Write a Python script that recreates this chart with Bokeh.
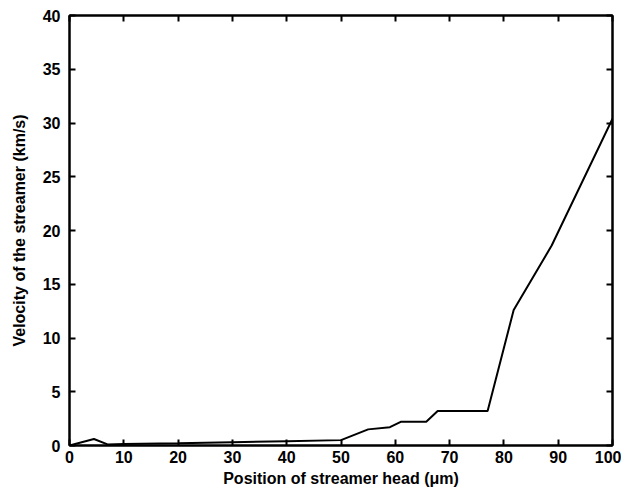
from bokeh.plotting import figure
from bokeh.models import LinearAxis, Range1d, FixedTicker
from bokeh.embed import file_html
from bokeh.resources import INLINE

position = [0, 4.5, 7, 10, 20, 30, 40, 50, 55, 59, 61, 65.7, 67.8, 77, 81.8, 88.8, 100]
velocity = [0, 0.6, 0.1, 0.15, 0.2, 0.3, 0.4, 0.5, 1.5, 1.7, 2.2, 2.2, 3.2, 3.2, 12.6, 18.6, 30.4]
x_ticks = [0, 10, 20, 30, 40, 50, 60, 70, 80, 90, 100]
y_ticks = [0, 5, 10, 15, 20, 25, 30, 35, 40]

FONT = "Liberation Sans"

p = figure(width=621, height=493, output_backend="svg", toolbar_location=None,
           x_range=Range1d(0, 100), y_range=Range1d(0, 40),
           min_border_left=69, min_border_right=9, min_border_top=15, min_border_bottom=48)
p.grid.visible = False
p.outline_line_color = "black"
p.outline_line_width = 2
p.background_fill_color = "white"
p.border_fill_color = "white"

p.line(position, velocity, line_color="black", line_width=2)

def style(ax, ticks, show_labels):
    ax.ticker = FixedTicker(ticks=ticks)
    ax.axis_line_color = "black"
    ax.axis_line_width = 2
    ax.major_tick_in = 6
    ax.major_tick_out = 0
    ax.major_tick_line_width = 2
    ax.minor_tick_line_color = None
    ax.major_label_text_font = FONT
    ax.major_label_text_font_style = "bold"
    ax.major_label_text_font_size = "16px"
    ax.major_label_text_color = "black"
    ax.axis_label_text_font = FONT
    ax.axis_label_text_font_style = "bold"
    ax.axis_label_text_font_size = "16px"
    ax.axis_label_text_color = "black"
    if not show_labels:
        ax.major_label_text_color = None
        ax.major_label_standoff = 0

style(p.xaxis[0], x_ticks, True)
style(p.yaxis[0], y_ticks, True)
p.xaxis[0].axis_label = "Position of streamer head (\u03bcm)"
p.yaxis[0].axis_label = "Velocity of the streamer (km/s)"
p.xaxis[0].major_label_standoff = 5
p.yaxis[0].major_label_standoff = 9
p.xaxis[0].axis_label_standoff = 4
p.yaxis[0].axis_label_standoff = 12

top = LinearAxis()
style(top, x_ticks, False)
p.add_layout(top, "above")
right = LinearAxis()
style(right, y_ticks, False)
p.add_layout(right, "right")

open("out.html", "w").write(file_html(p, INLINE))
